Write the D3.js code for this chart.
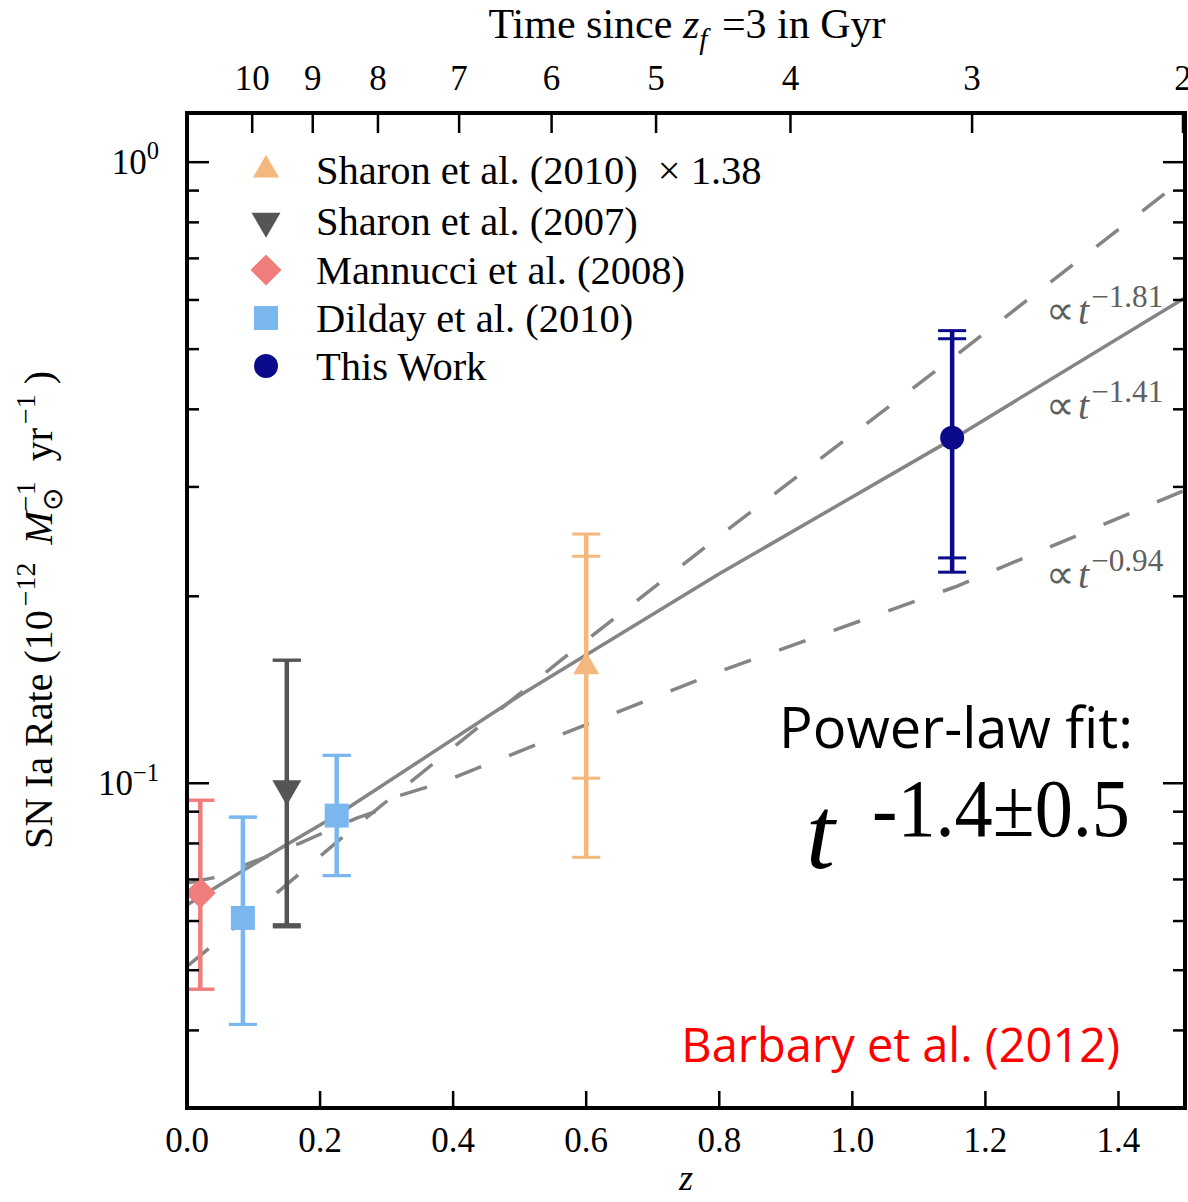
<!DOCTYPE html>
<html>
<head>
<meta charset="utf-8">
<script src="https://cdn.jsdelivr.net/npm/d3@7"></script>
<style>
  body { margin: 0; background: #fff; }
  svg { display: block; }
</style>
</head>
<body>
<svg id="chart" width="1188" height="1202"></svg>
<script>
// ---- axis ticks ----
const zTicks = [0.0, 0.2, 0.4, 0.6, 0.8, 1.0, 1.2, 1.4];
const zTickLabels = ["0.0", "0.2", "0.4", "0.6", "0.8", "1.0", "1.2", "1.4"];
// time since z_f = 3 (Gyr) and the redshift at which each value falls
const timeTickLabels = ["10", "9", "8", "7", "6", "5", "4", "3", "2"];
const timeTickZ = [0.098, 0.189, 0.287, 0.409, 0.548, 0.705, 0.907, 1.180, 1.497];
const rateMajorTicks = [1, 0.1];
const rateMajorExp = ["0", "\u22121"];
const rateMinorTicks = [0.03, 0.04, 0.05, 0.06, 0.07, 0.08, 0.09,
                        0.2, 0.3, 0.4, 0.5, 0.6, 0.7, 0.8, 0.9];

// ---- series (legend order) ----
const seriesNames = ["Sharon et al. (2010)", "Sharon et al. (2007)", "Mannucci et al. (2008)",
                     "Dilday et al. (2010)", "This Work"];
const seriesColors = ["#f4b77c", "#555555", "#f07c7c", "#7ab7ef", "#0a0a8a"];
const seriesShapes = ["triangleUp", "triangleDown", "diamond", "square", "circle"];

// ---- measurements: one entry per point ----
const pointSeries = [0, 1, 2, 3, 3, 4];
const pointZ      = [0.60, 0.15, 0.02, 0.084, 0.225, 1.15];
const pointRate   = [0.154, 0.098, 0.0666, 0.0607, 0.0887, 0.360];
const statLo      = [0.1019, 0.0592, 0.0466, 0.0409, 0.0710, 0.2306];
const statHi      = [0.2320, 0.1578, 0.0939, 0.0882, 0.1109, 0.5197];
const totalLo     = [0.0760, 0.0587, 0.0466, 0.0409, 0.0710, 0.2187];
const totalHi     = [0.2519, 0.1578, 0.0939, 0.0882, 0.1109, 0.5355];

// ---- delay-time power laws ----
const fitZ    = [0.0, 0.12, 0.225, 0.50, 0.80, 1.155, 1.50];
const fitRate = [0.0637, 0.0763, 0.0888, 0.1384, 0.2174, 0.3605, 0.6047];
const steepZ    = [0.0, 0.14, 0.245, 0.565, 0.80, 1.155, 1.50];
const steepRate = [0.0507, 0.0673, 0.0838, 0.1587, 0.250, 0.488, 0.943];
const shallowZ    = [0.0, 0.039, 0.17, 0.255, 0.29, 0.316, 0.38, 0.511, 0.604, 0.80, 1.155, 1.50];
const shallowRate = [0.0691, 0.0704, 0.0801, 0.0879, 0.0905, 0.0953, 0.100, 0.1138, 0.1248, 0.1513, 0.2072, 0.2964];
const lawExponents = ["\u22121.81", "\u22121.41", "\u22120.94"];
const lawLabelRate = [0.553, 0.389, 0.208];

const serif = "'Liberation Serif', 'Times New Roman', serif";
const sans = "'Open Sans', 'Noto Sans', sans-serif";

const svg = d3.select("#chart");
const L = 187, R = 1185, T = 113, B = 1108;
const x = d3.scaleLinear().domain([0, 1.5]).range([L, R]);
const y = d3.scaleLog().domain([0.03, 1.2]).range([B, T]);

// rich text: parts with optional italic / superscript / subscript
function rich(sel, parts, size, supScale = 0.7) {
  let shift = 0;
  parts.forEach(p => {
    const ts = sel.append("tspan").text(p.t);
    const s = p.sup ? size * 0.42 : p.sub ? -size * 0.25 : 0;
    if (p.italic) ts.attr("font-style", "italic");
    if (p.sup || p.sub) ts.attr("font-size", size * supScale);
    const dy = -(s - shift);
    if (dy) ts.attr("dy", dy);
    if (p.dx) ts.attr("dx", p.dx);
    shift = s;
    p.node = ts.node();
  });
  return parts;
}

function symbolPath(shape, size) {
  if (shape === "triangleUp" || shape === "triangleDown")
    return d3.symbol(d3.symbolTriangle, size * size * Math.sqrt(3) / 4)();
  if (shape === "diamond") return d3.symbol(d3.symbolSquare, (size / Math.SQRT2) ** 2)();
  if (shape === "square") return d3.symbol(d3.symbolSquare, size * size)();
  return d3.symbol(d3.symbolCircle, Math.PI * (size / 2) ** 2)();
}
function symbolRotate(shape) {
  return shape === "triangleDown" ? 180 : shape === "diamond" ? 45 : 0;
}
const markerSize = [26, 29, 31, 24, 24];

// ---- power-law curves ----
const line = d3.line().x(d => x(d[0])).y(d => y(d[1]));
const curves = [
  { z: steepZ, r: steepRate, dash: "28,30" },
  { z: fitZ, r: fitRate, dash: null },
  { z: shallowZ, r: shallowRate, dash: "28,30" }
];
const gLines = svg.append("g");
curves.forEach(c => {
  gLines.append("path")
    .attr("d", line(d3.zip(c.z, c.r)))
    .attr("fill", "none")
    .attr("stroke", "#858585")
    .attr("stroke-width", 3.5)
    .attr("stroke-dasharray", c.dash);
});

// labels of the power laws
lawExponents.forEach((e, i) => {
  const t = svg.append("text")
    .attr("x", 1046).attr("y", y(lawLabelRate[i]) + 2)
    .attr("font-family", serif).attr("font-size", 40).attr("fill", "#5f5f5f");
  rich(t, [{ t: "\u221D" }, { t: "t", italic: true, dx: 3 }, { t: e, sup: true, dx: 2 }], 40, 0.78);
});

// ---- error bars and markers ----
const gPts = svg.append("g");
pointZ.forEach((z, i) => {
  const s = pointSeries[i];
  const col = seriesColors[s];
  const cx = x(z);
  gPts.append("line")
    .attr("x1", cx).attr("x2", cx)
    .attr("y1", y(totalLo[i])).attr("y2", y(totalHi[i]))
    .attr("stroke", col).attr("stroke-width", 4.5);
  [statLo[i], statHi[i], totalLo[i], totalHi[i]].forEach(v => {
    gPts.append("line")
      .attr("x1", cx - 14).attr("x2", cx + 14)
      .attr("y1", y(v)).attr("y2", y(v))
      .attr("stroke", col).attr("stroke-width", 3);
  });
  gPts.append("path")
    .attr("d", symbolPath(seriesShapes[s], markerSize[s]))
    .attr("transform", `translate(${cx},${y(pointRate[i])}) rotate(${symbolRotate(seriesShapes[s])})`)
    .attr("fill", col);
});

// ---- frame ----
const gAx = svg.append("g").attr("stroke", "#000");
zTicks.forEach(v => {
  gAx.append("line").attr("x1", x(v)).attr("x2", x(v)).attr("y1", B).attr("y2", B - 17).attr("stroke-width", 2.5);
});
timeTickZ.forEach(v => {
  gAx.append("line").attr("x1", x(v)).attr("x2", x(v)).attr("y1", T).attr("y2", T + 20).attr("stroke-width", 2.5);
});
rateMajorTicks.forEach(v => {
  gAx.append("line").attr("x1", L).attr("x2", L + 22).attr("y1", y(v)).attr("y2", y(v)).attr("stroke-width", 2.5);
  gAx.append("line").attr("x1", R).attr("x2", R - 22).attr("y1", y(v)).attr("y2", y(v)).attr("stroke-width", 2.5);
});
rateMinorTicks.forEach(v => {
  gAx.append("line").attr("x1", L).attr("x2", L + 12).attr("y1", y(v)).attr("y2", y(v)).attr("stroke-width", 2.5);
  gAx.append("line").attr("x1", R).attr("x2", R - 12).attr("y1", y(v)).attr("y2", y(v)).attr("stroke-width", 2.5);
});
gAx.append("rect")
  .attr("x", L).attr("y", T).attr("width", R - L).attr("height", B - T)
  .attr("fill", "none").attr("stroke-width", 4);

// ---- tick labels ----
const tickFont = 35;
zTicks.forEach((v, i) => {
  svg.append("text").attr("x", x(v)).attr("y", 1152)
    .attr("text-anchor", "middle").attr("font-family", serif).attr("font-size", tickFont)
    .text(zTickLabels[i]);
});
timeTickZ.forEach((v, i) => {
  svg.append("text").attr("x", x(v)).attr("y", 90)
    .attr("text-anchor", "middle").attr("font-family", serif).attr("font-size", tickFont)
    .text(timeTickLabels[i]);
});
rateMajorTicks.forEach((v, i) => {
  const t = svg.append("text").attr("x", 159).attr("y", y(v) + 12)
    .attr("text-anchor", "end").attr("font-family", serif).attr("font-size", tickFont);
  rich(t, [{ t: "10" }, { t: rateMajorExp[i], sup: true }], tickFont);
});

// ---- axis titles ----
svg.append("text").attr("x", x(0.75)).attr("y", 1190)
  .attr("text-anchor", "middle").attr("font-family", serif).attr("font-size", 36)
  .attr("font-style", "italic").text("z");

const topTitle = svg.append("text").attr("x", 687).attr("y", 38)
  .attr("text-anchor", "middle").attr("font-family", serif).attr("font-size", 42);
rich(topTitle, [{ t: "Time since " }, { t: "z", italic: true }, { t: "f", italic: true, sub: true },
           { t: " =3 in Gyr", dx: 4 }], 42);

const yTitle = svg.append("text")
  .attr("transform", "translate(52,610) rotate(-90)")
  .attr("text-anchor", "middle").attr("font-family", serif).attr("font-size", 40);
const yParts = rich(yTitle, [
  { t: "SN Ia Rate (10" }, { t: "\u221212", sup: true, dx: 4 }, { t: "\u2009" },
  { t: "M", italic: true, dx: 10 }, { t: "\u2299", sub: true }, { t: "\u22121", sup: true },
  { t: " yr" }, { t: "\u22121", sup: true, dx: 4 }, { t: ")", dx: 10 }
], 40);
// stack the superscript over the solar subscript
const solarW = yParts[4].node.getComputedTextLength();
const supW = yParts[5].node.getComputedTextLength();
d3.select(yParts[5].node).attr("dx", -solarW);
d3.select(yParts[6].node).attr("dx", Math.max(0, solarW - supW) + 10);

// ---- legend ----
const legY = [170, 221, 270, 318, 366];
seriesNames.forEach((name, i) => {
  svg.append("path")
    .attr("d", symbolPath(seriesShapes[i], markerSize[i]))
    .attr("transform", `translate(266,${legY[i]}) rotate(${symbolRotate(seriesShapes[i])})`)
    .attr("fill", seriesColors[i]);
  const t = svg.append("text").attr("x", 316).attr("y", legY[i] + 14)
    .attr("font-family", serif).attr("font-size", 40.5).text(name);
  if (i === 0) t.append("tspan").attr("dx", 20).text("\u00D7 1.38");
});

// ---- annotations ----
svg.append("text").attr("x", 1133).attr("y", 748)
  .attr("text-anchor", "end").attr("font-family", sans).attr("font-size", 56)
  .attr("fill", "#000").text("Power-law fit:");
svg.append("text").attr("x", 806).attr("y", 868)
  .attr("font-family", serif).attr("font-style", "italic").attr("font-size", 104)
  .text("t");
svg.append("text").attr("x", 1130).attr("y", 836)
  .attr("text-anchor", "end").attr("font-family", serif).attr("font-size", 82)
  .attr("textLength", 258).attr("lengthAdjust", "spacingAndGlyphs")
  .text("-1.4\u00B10.5");
svg.append("text").attr("x", 1120).attr("y", 1062)
  .attr("text-anchor", "end").attr("font-family", sans).attr("font-size", 47)
  .attr("fill", "#ff0000").text("Barbary et al. (2012)");
</script>
</body>
</html>
